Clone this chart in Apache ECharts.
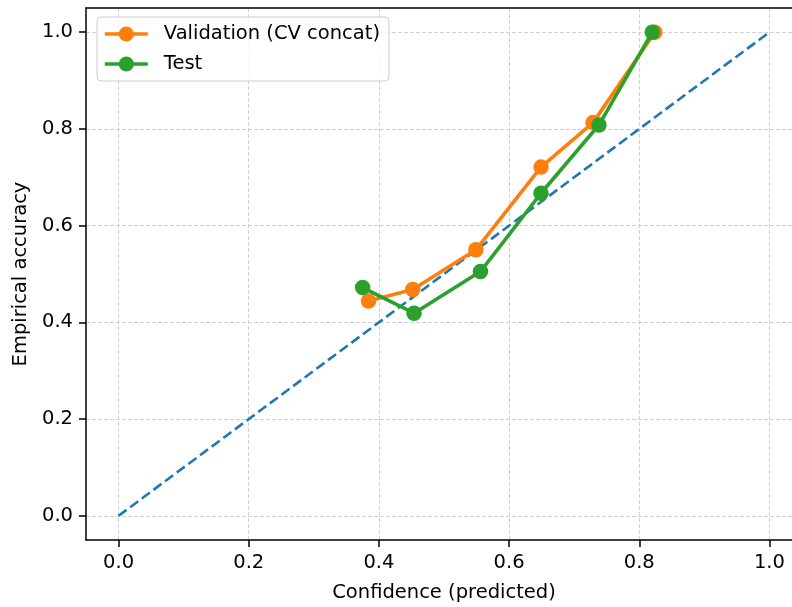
<!DOCTYPE html>
<html>
<head>
<meta charset="utf-8">
<script src="https://cdn.jsdelivr.net/npm/echarts@6/dist/echarts.min.js"></script>
<style>
  html, body { margin: 0; padding: 0; background: #fff; }
  #main { width: 792px; height: 607px; }
</style>
</head>
<body>
<div id="main"></div>
<script>
// confidence (x) / empirical accuracy (y) per bin
const valConf = [0.384, 0.452, 0.549, 0.649, 0.729, 0.824];
const valAcc  = [0.444, 0.468, 0.550, 0.721, 0.813, 1.000];
const testConf = [0.375, 0.454, 0.556, 0.649, 0.738, 0.820];
const testAcc  = [0.472, 0.419, 0.505, 0.667, 0.808, 1.000];
const diagonal = [[0, 0], [1, 1]];
const tickValues = [0, 0.2, 0.4, 0.6, 0.8, 1.0];

const pairs = (xs, ys) => xs.map((x, i) => [x, ys[i]]);

const FONT = 'DejaVu Sans';
const FS = 19.5;
const myChart = echarts.init(document.getElementById('main'));

const axisCommon = {
    min: -0.05,
    max: 1.05,
    nameLocation: 'middle',
    nameTextStyle: { fontFamily: FONT, fontSize: FS, color: '#000' },
    axisLine: { show: true, onZero: false, lineStyle: { color: '#000', width: 1.5 } },
    axisTick: { show: true, length: 7, lineStyle: { color: '#000', width: 1.5 }, customValues: tickValues },
    axisLabel: {
        fontFamily: FONT, fontSize: FS, color: '#000',
        customValues: tickValues,
        formatter: v => v.toFixed(1)
    },
    splitLine: { show: true, lineStyle: { color: '#d2d2d2', width: 1, type: [4, 2] } }
};

const option = {
    animation: false,
    grid: {
        // plot runs past the right edge, as in the cropped original
        left: 86, width: 716, top: 8, bottom: 67,
        outerBoundsMode: 'none'
    },
    legend: {
        orient: 'vertical',
        left: 97, top: 17,
        data: ['Validation (CV concat)', 'Test'],
        itemWidth: 43, itemHeight: 19,
        itemGap: 8,
        padding: [6, 9, 6, 6],
        backgroundColor: 'rgba(255,255,255,0.8)',
        borderColor: '#cccccc', borderWidth: 1, borderRadius: 4,
        lineStyle: { width: 3.6 },
        textStyle: { fontFamily: FONT, fontSize: FS, color: '#000', lineHeight: 22, padding: [0, 0, 0, 11] }
    },
    xAxis: [
        Object.assign({}, axisCommon, {
            type: 'value',
            name: 'Confidence (predicted)',
            nameGap: 43,
            axisLabel: Object.assign({}, axisCommon.axisLabel, { margin: 13 })
        }),
        {
            // top spine only
            type: 'value', position: 'top', min: -0.05, max: 1.05,
            axisLine: { show: true, onZero: false, lineStyle: { color: '#000', width: 1.5 } },
            axisTick: { show: false }, axisLabel: { show: false }, splitLine: { show: false }
        }
    ],
    yAxis: Object.assign({}, axisCommon, {
        type: 'value',
        name: 'Empirical accuracy',
        nameGap: 53,
        axisLabel: Object.assign({}, axisCommon.axisLabel, { margin: 13 })
    }),
    series: [
        {
            name: 'diag',
            type: 'line',
            data: diagonal,
            symbol: 'none',
            silent: true,
            z: 2,
            lineStyle: { color: '#1f77b4', width: 2.6, type: [10, 4.5] }
        },
        {
            name: 'Validation (CV concat)',
            type: 'line',
            data: pairs(valConf, valAcc),
            symbol: 'circle',
            symbolSize: 15.5,
            z: 3,
            itemStyle: { color: '#ff7f0e' },
            lineStyle: { color: '#ff7f0e', width: 3.6 }
        },
        {
            name: 'Test',
            type: 'line',
            data: pairs(testConf, testAcc),
            symbol: 'circle',
            symbolSize: 15.5,
            z: 4,
            itemStyle: { color: '#2ca02c' },
            lineStyle: { color: '#2ca02c', width: 3.6 }
        }
    ]
};

myChart.setOption(option);
</script>
</body>
</html>
